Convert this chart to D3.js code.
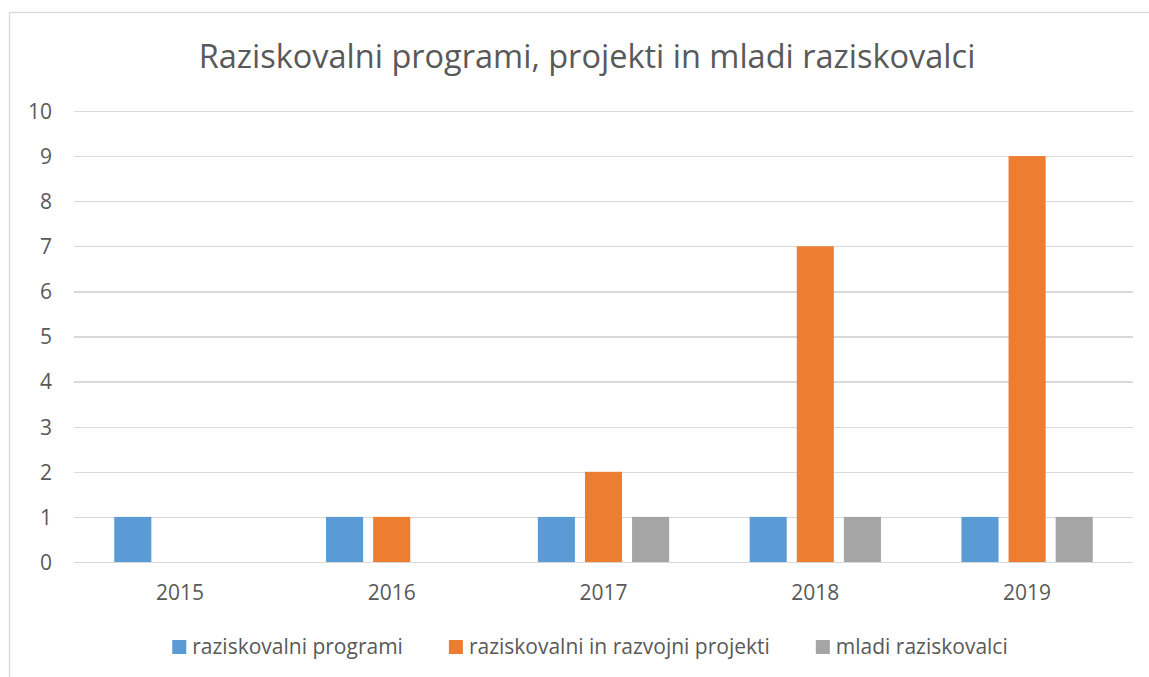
<!DOCTYPE html>
<html lang="sl">
<head>
  <meta charset="UTF-8">
  <title>Raziskovalni programi</title>
  <script src="https://cdn.jsdelivr.net/npm/d3@7"></script>
</head>
<body>
<style>
  * {
    padding: 0;
    margin: 0;
  }

  body {
    background: #fff;
  }

  #app {
    width: 1149px;
    height: 677px;
    overflow: hidden;
  }

  #chart text {
    font-family: "Open Sans", "Noto Sans", sans-serif;
    fill: #595959;
  }

  .y-axis .domain {
    display: none;
  }

  .y-axis line {
    stroke: #d9d9d9;
    stroke-width: 1.3;
    shape-rendering: crispEdges;
  }
</style>

<div id="app"></div>

<script>
  // podatki
  const years = ["2015", "2016", "2017", "2018", "2019"];
  const seriesNames = ["raziskovalni programi", "raziskovalni in razvojni projekti", "mladi raziskovalci"];
  const programi = [1, 1, 1, 1, 1];
  const projekti = [0, 1, 2, 7, 9];
  const mladi = [0, 0, 1, 1, 1];
  const yTicks = [0, 1, 2, 3, 4, 5, 6, 7, 8, 9, 10];
  const colors = ["#5b9bd5", "#ed7d31", "#a5a5a5"];
  const title = "Raziskovalni programi, projekti in mladi raziskovalci";

  const seriesValues = [programi, projekti, mladi];

  const $width = 1149, $height = 677;
  const plot = {left: 74, right: 1133, top: 111, bottom: 562};

  const svg = d3.select("#app").append("svg")
    .attr("id", "chart")
    .attr("width", $width)
    .attr("height", $height);

  // okvir grafikona (desno in spodaj odrezan)
  svg.append("rect")
    .attr("x", 9.5).attr("y", 12.5)
    .attr("width", $width + 20).attr("height", $height + 20)
    .attr("fill", "#fff")
    .attr("stroke", "#d9d9d9")
    .attr("stroke-width", 1.3);

  // naslov
  svg.append("text")
    .attr("x", 587).attr("y", 68)
    .attr("text-anchor", "middle")
    .attr("font-size", 32.5)
    .text(title);

  /**
   * skale
   */
  const scaleY = d3.scaleLinear().domain([0, 10]).range([plot.bottom, plot.top]);

  const scaleX = d3.scaleBand().domain(years)
    .range([plot.left, plot.right])
    .paddingInner(0.38)
    .paddingOuter(0.19);

  const scaleS = d3.scaleBand().domain(d3.range(seriesNames.length))
    .range([0, scaleX.bandwidth()])
    .paddingInner(0.213);

  // os y + mreža
  const axisY = d3.axisLeft(scaleY)
    .tickValues(yTicks)
    .tickSize(-(plot.right - plot.left))
    .tickPadding(22);

  const gy = svg.append("g").classed("y-axis", true)
    .attr("transform", "translate(" + plot.left + ",0)")
    .call(axisY);
  gy.selectAll("text").attr("font-size", 21).attr("dy", "0.35em");

  // stolpci
  const groups = svg.selectAll("g.year").data(years).enter().append("g")
    .classed("year", true)
    .attr("transform", function (d) {
      return "translate(" + scaleX(d) + ",0)";
    });

  groups.selectAll("rect").data(function (d, i) {
    return seriesValues.map(function (vals, s) {
      return {s: s, v: vals[i]};
    }).filter(function (e) {
      return e.v > 0;
    });
  }).enter().append("rect")
    .attr("x", function (d) { return scaleS(d.s); })
    .attr("y", function (d) { return scaleY(d.v); })
    .attr("width", scaleS.bandwidth())
    .attr("height", function (d) { return scaleY(0) - scaleY(d.v); })
    .attr("fill", function (d) { return colors[d.s]; });

  // oznake x
  svg.selectAll("text.xlab").data(years).enter().append("text")
    .classed("xlab", true)
    .attr("x", function (d) { return scaleX(d) + scaleX.bandwidth() / 2; })
    .attr("y", 600)
    .attr("text-anchor", "middle")
    .attr("font-size", 21)
    .text(function (d) { return d; });

  // legenda
  const legend = svg.append("g");
  const items = legend.selectAll("g").data(seriesNames).enter().append("g");
  items.append("rect")
    .attr("width", 14).attr("height", 14)
    .attr("y", 640)
    .attr("fill", function (d, i) { return colors[i]; });
  items.append("text")
    .attr("x", 20).attr("y", 654)
    .attr("font-size", 21)
    .text(function (d) { return d; });

  let widths = [];
  items.each(function () {
    widths.push(d3.select(this).select("text").node().getComputedTextLength() + 20);
  });
  const gap = 46;
  const total = d3.sum(widths) + gap * (widths.length - 1);
  let cx = 590 - total / 2;
  items.attr("transform", function (d, i) {
    const t = "translate(" + cx + ",0)";
    cx += widths[i] + gap;
    return t;
  });
</script>
</body>
</html>
